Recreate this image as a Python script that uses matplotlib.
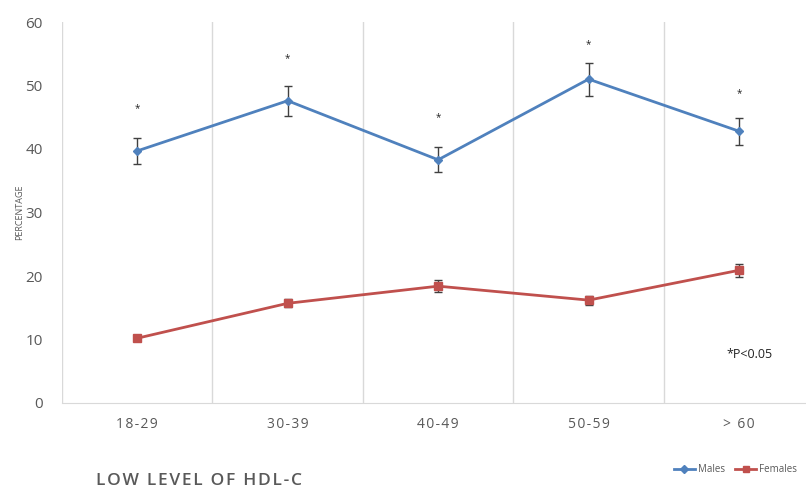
import matplotlib
matplotlib.use("Agg")
import matplotlib.pyplot as plt
from matplotlib.lines import Line2D
import numpy as np

plt.rcParams['font.family'] = ['Open Sans', 'DejaVu Sans']

categories = ["18-29", "30-39", "40-49", "50-59", "> 60"]
males = [39.7, 47.6, 38.3, 51.0, 42.8]
males_err = [2.0, 2.4, 2.0, 2.6, 2.1]
females = [10.2, 15.7, 18.4, 16.2, 20.9]
females_err = [0.3, 0.6, 0.9, 0.7, 1.0]
star_y = [46.3, 54.2, 45.0, 56.5, 48.8]

SP = '\u200a'

def spaced(s):
    return SP.join(list(s))

fig = plt.figure(figsize=(8.06, 4.91), dpi=100)
ax = fig.add_axes([62/806, 1-403/491, 1-62/806, (403-22)/491])

x = np.arange(len(categories))
blue = '#4F81BD'
red = '#C0504D'
ax.errorbar(x, males, yerr=males_err, color=blue, marker='D', markersize=4.5,
            linewidth=2, ecolor='#404040', elinewidth=1, capsize=3, capthick=1, zorder=3)
ax.errorbar(x, females, yerr=females_err, color=red, marker='s', markersize=6,
            linewidth=2, ecolor='#404040', elinewidth=1, capsize=3, capthick=1, zorder=3)

for xi, sy in zip(x, star_y):
    ax.text(xi, sy, '*', ha='center', va='center', fontsize=7, color='#222222')

ax.text(0.893, 0.128, '*P<0.05', transform=ax.transAxes, ha='left', va='center', fontsize=9, color='#222222')

ax.set_xlim(-0.5, 4.445)
ax.set_ylim(0, 60)
ax.set_yticks(range(0, 61, 10))
ax.set_xticks(x)
ax.set_xticklabels([spaced(c) for c in categories])
for b in [-0.5, 0.5, 1.5, 2.5, 3.5]:
    ax.axvline(b, color='#D9D9D9', linewidth=1, zorder=0)

for s in ['top', 'right', 'left']:
    ax.spines[s].set_visible(False)
ax.spines['bottom'].set_color('#D9D9D9')
ax.tick_params(axis='both', length=0, colors='#595959')
ax.tick_params(axis='x', pad=10, labelsize=10)
ax.tick_params(axis='y', pad=14, labelsize=11)

fig.text(20/806, 1-212/491, 'PERCENTAGE', rotation=90, ha='center', va='center', fontsize=6.5, color='#595959')

fig.text(96/806, 1-481/491, spaced('LOW LEVEL OF HDL-C'), ha='left', va='center', fontsize=12.5,
         fontweight='semibold', color='#595959')

handles = [Line2D([], [], color=blue, marker='D', markersize=4, linewidth=2),
           Line2D([], [], color=red, marker='s', markersize=5, linewidth=2)]
fig.legend(handles, ['Males', 'Females'], loc='center right', bbox_to_anchor=(1.0, 1-470/491),
           frameon=False, ncol=2, fontsize=7, handlelength=2.2, columnspacing=1.0,
           handletextpad=0.3, labelcolor='#595959')

fig.savefig('out.png', dpi=100)
